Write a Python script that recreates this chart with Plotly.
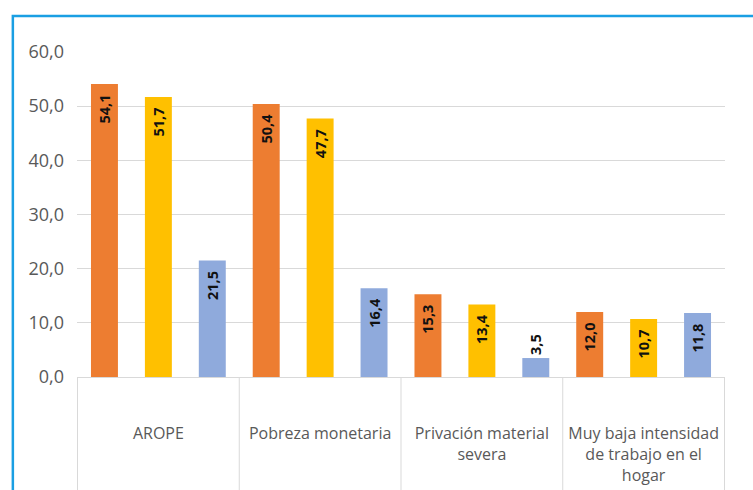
import plotly.graph_objects as go

categories = ["AROPE", "Pobreza monetaria", "Privación material<br>severa",
              "Muy baja intensidad<br>de trabajo en el<br>hogar"]
serie_naranja = [54.1, 50.4, 15.3, 12.0]
serie_amarilla = [51.7, 47.7, 13.4, 10.7]
serie_azul = [21.5, 16.4, 3.5, 11.8]
y_ticks = [0, 10, 20, 30, 40, 50, 60]

colors = ["#ED7D31", "#FFC000", "#8FAADC"]

fig = go.Figure()
for vals, col in zip([serie_naranja, serie_amarilla, serie_azul], colors):
    # short bars get their label outside
    pos = ["inside" if v > 6 else "outside" for v in vals]
    tmpl = ["%{y:.1f}\u00a0\u00a0" if p == "inside" else "%{y:.1f}" for p in pos]
    fig.add_trace(go.Bar(
        x=categories, y=vals,
        marker_color=col, marker_line_width=0,
        texttemplate=tmpl,
        textposition=pos, insidetextanchor="end",
        textangle=-90, constraintext="none", cliponaxis=False,
        textfont=dict(family="Open Sans", size=14.5, color="#111111", weight="bold"),
        showlegend=False, hoverinfo="skip",
    ))

# category separators below the axis
for i in range(len(categories) + 1):
    fig.add_shape(type="line", xref="x", yref="paper",
                  x0=i - 0.5, x1=i - 0.5, y0=0, y1=-0.4,
                  line=dict(color="#d9d9d9", width=1))

# blue frame
fig.add_shape(type="rect", xref="paper", yref="paper",
              x0=-0.099, x1=1.2, y0=-0.5, y1=1.111,
              line=dict(color="#1a9fe3", width=2.5), layer="below")

fig.update_layout(
    width=753, height=490,
    margin=dict(l=77, r=28, t=52, b=113),
    barmode="group", bargap=0, bargroupgap=0.5,
    plot_bgcolor="white", paper_bgcolor="white",
    separators=",.",
    font=dict(family="Open Sans", size=13, color="#595959"),
)
fig.update_yaxes(range=[0, 60], tickvals=y_ticks, tickformat=".1f",
                 showgrid=True, gridcolor="#d9d9d9", gridwidth=1,
                 zeroline=False, showline=False, automargin=False,
                 ticklabelstandoff=12, tickfont=dict(size=18, color="#595959"))
fig.update_xaxes(showline=True, linecolor="#d9d9d9", linewidth=1,
                 ticks="", ticklabelstandoff=42, automargin=False,
                 tickfont=dict(size=16, color="#595959"))

fig.write_html("out.html", config={"displayModeBar": False},
               post_script="document.body.style.margin='0';")
